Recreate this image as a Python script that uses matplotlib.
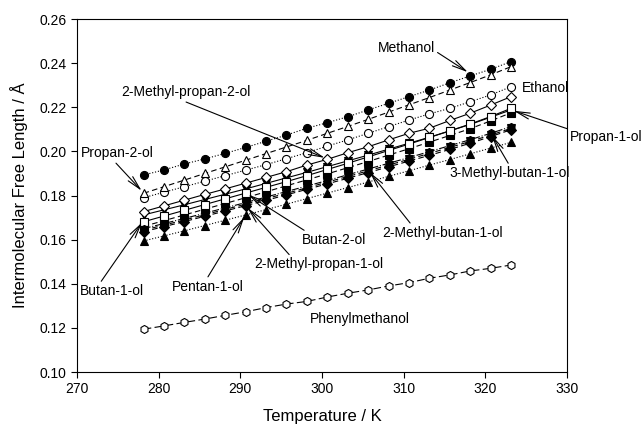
import numpy as np
import matplotlib
matplotlib.use("Agg")
import matplotlib.pyplot as plt

plt.rcParams['font.family'] = ['Liberation Sans', 'DejaVu Sans']

# temperatures (K)
temps = [278.15, 280.65, 283.15, 285.65, 288.15, 290.65, 293.15, 295.65, 298.15, 300.65,
         303.15, 305.65, 308.15, 310.65, 313.15, 315.65, 318.15, 320.65, 323.15]

# intermolecular free length (Angstrom) for each alcohol
methanol = [0.1893, 0.1916, 0.1943, 0.1966, 0.1991, 0.2018, 0.2046, 0.2074, 0.2105, 0.2130,
            0.2157, 0.2188, 0.2218, 0.2248, 0.2278, 0.2311, 0.2342, 0.2372, 0.2407]
ethanol = [0.1790, 0.1815, 0.1840, 0.1865, 0.1890, 0.1915, 0.1940, 0.1967, 0.1994, 0.2024,
           0.2052, 0.2082, 0.2112, 0.2142, 0.2170, 0.2195, 0.2225, 0.2256, 0.2293]
propan_1_ol = [0.1712, 0.1735, 0.1758, 0.1782, 0.1806, 0.1830, 0.1855, 0.1880, 0.1905, 0.1931,
               0.1957, 0.1983, 0.2010, 0.2037, 0.2064, 0.2093, 0.2122, 0.2155, 0.2188]
propan_2_ol = [0.1810, 0.1840, 0.1870, 0.1900, 0.1930, 0.1960, 0.1990, 0.2020, 0.2050, 0.2082,
               0.2113, 0.2145, 0.2178, 0.2211, 0.2244, 0.2278, 0.2312, 0.2347, 0.2384]
butan_1_ol = [0.1660, 0.1686, 0.1712, 0.1738, 0.1764, 0.1790, 0.1817, 0.1844, 0.1871, 0.1898,
              0.1926, 0.1954, 0.1983, 0.2012, 0.2042, 0.2072, 0.2103, 0.2138, 0.2175]
butan_2_ol = [0.1681, 0.1707, 0.1733, 0.1759, 0.1785, 0.1811, 0.1837, 0.1863, 0.1890, 0.1918,
              0.1946, 0.1975, 0.2004, 0.2033, 0.2063, 0.2093, 0.2124, 0.2158, 0.2195]
methyl_propan_1_ol = [0.1636, 0.1659, 0.1682, 0.1706, 0.1730, 0.1754, 0.1778, 0.1803, 0.1828, 0.1853,
                      0.1878, 0.1904, 0.1930, 0.1956, 0.1982, 0.2009, 0.2037, 0.2067, 0.2098]
methyl_propan_2_ol = [0.1727, 0.1753, 0.1779, 0.1805, 0.1830, 0.1856, 0.1882, 0.1908, 0.1938, 0.1964,
                      0.1994, 0.2021, 0.2052, 0.2082, 0.2105, 0.2140, 0.2173, 0.2210, 0.2248]
pentan_1_ol = [0.1594, 0.1617, 0.1640, 0.1664, 0.1688, 0.1712, 0.1736, 0.1761, 0.1786, 0.1811,
               0.1836, 0.1861, 0.1887, 0.1912, 0.1938, 0.1963, 0.1989, 0.2015, 0.2041]
methyl_butan_1_ol_2 = [0.1643, 0.1666, 0.1689, 0.1713, 0.1737, 0.1761, 0.1786, 0.1810, 0.1835, 0.1861,
                       0.1886, 0.1912, 0.1938, 0.1964, 0.1991, 0.2018, 0.2045, 0.2074, 0.2104]
methyl_butan_1_ol_3 = [0.1650, 0.1673, 0.1696, 0.1720, 0.1744, 0.1768, 0.1793, 0.1818, 0.1843, 0.1868,
                       0.1894, 0.1920, 0.1946, 0.1972, 0.1999, 0.2026, 0.2053, 0.2082, 0.2112]
phenylmethanol = [0.1194, 0.1209, 0.1225, 0.1240, 0.1257, 0.1273, 0.1292, 0.1308, 0.1320, 0.1340,
                  0.1357, 0.1372, 0.1390, 0.1405, 0.1425, 0.1440, 0.1458, 0.1470, 0.1485]

# (values, marker, filled, linestyle)
series = [
    (methanol, 'o', True, ':'),
    (ethanol, 'o', False, ':'),
    (propan_1_ol, 'v', True, '-'),
    (propan_2_ol, '^', False, (0, (5, 3))),
    (butan_1_ol, 's', True, (0, (5, 3))),
    (butan_2_ol, 's', False, '-'),
    (methyl_propan_1_ol, 'D', True, (0, (5, 3))),
    (methyl_propan_2_ol, 'D', False, '-'),
    (pentan_1_ol, '^', True, ':'),
    (methyl_butan_1_ol_2, 'v', False, (0, (5, 3))),
    (methyl_butan_1_ol_3, 'h', True, '-.'),
    (phenylmethanol, 'h', False, (0, (7, 3))),
]

fig = plt.figure(figsize=(6.43, 4.28), dpi=100)
ax = fig.add_axes([0.1198, 0.1308, 0.7620, 0.8248])

for vals, mk, filled, ls in series:
    ms = 5.0 if mk == 'D' else 5.8
    ax.plot(temps, vals, linestyle=ls, color='black', lw=0.8,
            marker=mk, markersize=ms, markeredgewidth=0.8,
            markeredgecolor='black', markerfacecolor='black' if filled else 'white')

arrow = dict(arrowstyle='->,head_length=1.0,head_width=0.22', color='black', lw=0.8,
             shrinkA=0, shrinkB=2)

def label(text, xytext, xy=None, relpos=(0.5, 0.5)):
    if xy is None:
        ax.text(xytext[0], xytext[1], text, fontsize=10, ha='center', va='center')
    else:
        props = dict(arrow, relpos=relpos)
        ax.annotate(text, xy=xy, xytext=xytext, fontsize=10, ha='center', va='center',
                    arrowprops=props, annotation_clip=False)

label('Methanol', (310.3, 0.2469), (318.15, 0.2352), relpos=(1.0, 0.3))
label('Ethanol', (327.4, 0.2287))
label('Propan-1-ol', (334.8, 0.2067), (323.15, 0.2188), relpos=(0.0, 1.0))
label('3-Methyl-butan-1-ol', (323.0, 0.1902), (320.65, 0.2082), relpos=(0.5, 1.0))
label('2-Methyl-butan-1-ol', (314.75, 0.1631), (305.65, 0.1915), relpos=(0.25, 1.0))
label('Butan-2-ol', (301.5, 0.1598), (290.65, 0.1811), relpos=(0.1, 1.0))
label('2-Methyl-propan-1-ol', (299.6, 0.1488), (290.65, 0.1754), relpos=(0.29, 1.0))
label('Pentan-1-ol', (286.0, 0.1387), (290.65, 0.1712), relpos=(0.48, 1.0))
label('Butan-1-ol', (274.3, 0.1367), (278.15, 0.1688), relpos=(0.3, 1.0))
label('Propan-2-ol', (274.9, 0.1991), (278.15, 0.1812), relpos=(0.45, 0.0))
label('2-Methyl-propan-2-ol', (283.3, 0.2268), (300.65, 0.1966), relpos=(0.45, 0.0))
label('Phenylmethanol', (304.65, 0.1239))

ax.set_xlim(270, 330)
ax.set_ylim(0.10, 0.26)
ax.set_xticks(np.arange(270, 331, 10))
ax.set_yticks(np.arange(0.10, 0.261, 0.02))
ax.yaxis.set_major_formatter(matplotlib.ticker.FormatStrFormatter('%.2f'))
ax.tick_params(direction='out', length=4, width=0.8, labelsize=10, top=False, right=False)
for s in ax.spines.values():
    s.set_linewidth(0.8)

ax.set_xlabel('Temperature / K', fontsize=12, labelpad=9)
ax.set_ylabel('Intermolecular Free Length / Å', fontsize=12, labelpad=8)

fig.savefig('out.png', dpi=100)
plt.close()
